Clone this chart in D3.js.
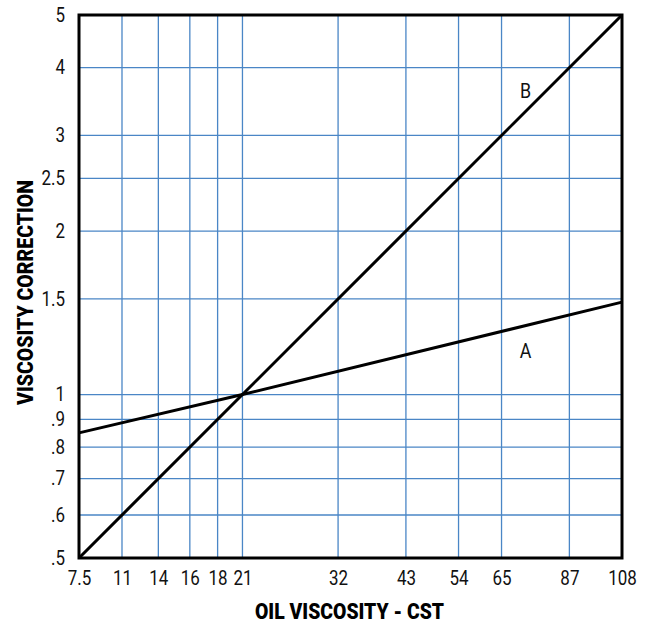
<!DOCTYPE html>
<html>
<head>
<meta charset="utf-8">
<script src="https://cdn.jsdelivr.net/npm/d3@7"></script>
<style>
  body { margin: 0; background: #fff; }
  text { font-family: Roboto, "Liberation Sans", sans-serif; }
</style>
</head>
<body>
<svg width="650" height="624"></svg>
<script>
// x axis is log of SSU, labelled with the equivalent CST
var ssuTicks = [50, 60, 70, 80, 90, 100, 150, 200, 250, 300, 400, 500];
var cstLabels = ["7.5", "11", "14", "16", "18", "21", "32", "43", "54", "65", "87", "108"];
var yTicks = [0.5, 0.6, 0.7, 0.8, 0.9, 1, 1.5, 2, 2.5, 3, 4, 5];
var yLabels = [".5", ".6", ".7", ".8", ".9", "1", "1.5", "2", "2.5", "3", "4", "5"];

// curves: points in (SSU, correction)
var lineA = [[50, 0.85], [100, 1], [500, 1.48]];
var lineB = [[50, 0.5], [100, 1], [500, 5]];
var curveLabels = [{name: "A", ssu: 332, y: 1.17}, {name: "B", ssu: 332, y: 3.52}];

var svg = d3.select("svg");
var margin = {left: 79, top: 15, right: 28, bottom: 66};
var w = 650 - margin.left - margin.right,
    h = 624 - margin.top - margin.bottom;
var squeeze = 0.87; // condensed look

var x = d3.scaleLog().domain([50, 500]).range([0, w]);
var y = d3.scaleLog().domain([0.5, 5]).range([h, 0]);

var g = svg.append("g").attr("transform", "translate(" + margin.left + "," + margin.top + ")");

// grid
g.append("g").selectAll("line")
  .data(ssuTicks.slice(1, -1))
  .enter().append("line")
  .attr("x1", function(d) { return x(d); })
  .attr("x2", function(d) { return x(d); })
  .attr("y1", 0).attr("y2", h)
  .attr("stroke", "#4a86c6").attr("stroke-width", 1.3);

g.append("g").selectAll("line")
  .data(yTicks.slice(1, -1))
  .enter().append("line")
  .attr("y1", function(d) { return y(d); })
  .attr("y2", function(d) { return y(d); })
  .attr("x1", 0).attr("x2", w)
  .attr("stroke", "#4a86c6").attr("stroke-width", 1.3);

// axes (labels only)
var xAxis = d3.axisBottom(x).tickValues(ssuTicks).tickSize(0).tickPadding(13)
  .tickFormat(function(d, i) { return cstLabels[i]; });
var yAxis = d3.axisLeft(y).tickValues(yTicks).tickSize(0).tickPadding(16)
  .tickFormat(function(d, i) { return yLabels[i]; });

var gx = g.append("g").attr("transform", "translate(0," + h + ")").call(xAxis);
var gy = g.append("g").call(yAxis);
[gx, gy].forEach(function(a) {
  a.select(".domain").remove();
  a.attr("font-family", null).attr("font-size", null);
  a.selectAll("text").attr("font-size", 19.5).attr("fill", "#111")
    .attr("transform", "scale(" + squeeze + ",1)");
});

// curves
var line = d3.line().x(function(d) { return x(d[0]); }).y(function(d) { return y(d[1]); });
[lineA, lineB].forEach(function(pts) {
  g.append("path").datum(pts).attr("d", line)
    .attr("fill", "none").attr("stroke", "#000").attr("stroke-width", 3);
});

g.selectAll(".clabel")
  .data(curveLabels)
  .enter().append("text")
  .attr("class", "clabel")
  .attr("transform", function(d) { return "translate(" + x(d.ssu) + "," + y(d.y) + ") scale(0.85,1)"; })
  .attr("text-anchor", "middle")
  .attr("font-size", 21)
  .attr("fill", "#111")
  .text(function(d) { return d.name; });

// frame
g.append("rect").attr("x", 0).attr("y", 0).attr("width", w).attr("height", h)
  .attr("fill", "none").attr("stroke", "#000").attr("stroke-width", 3);

// titles
svg.append("text")
  .attr("x", 349.5).attr("y", 619)
  .attr("text-anchor", "middle")
  .attr("font-size", 22.5).attr("font-weight", 900)
  .attr("textLength", 189).attr("lengthAdjust", "spacingAndGlyphs")
  .text("OIL VISCOSITY - CST");

svg.append("text")
  .attr("transform", "translate(33,292.5) rotate(-90)")
  .attr("text-anchor", "middle")
  .attr("font-size", 22.5).attr("font-weight", 900)
  .attr("textLength", 225).attr("lengthAdjust", "spacingAndGlyphs")
  .text("VISCOSITY CORRECTION");
</script>
</body>
</html>
